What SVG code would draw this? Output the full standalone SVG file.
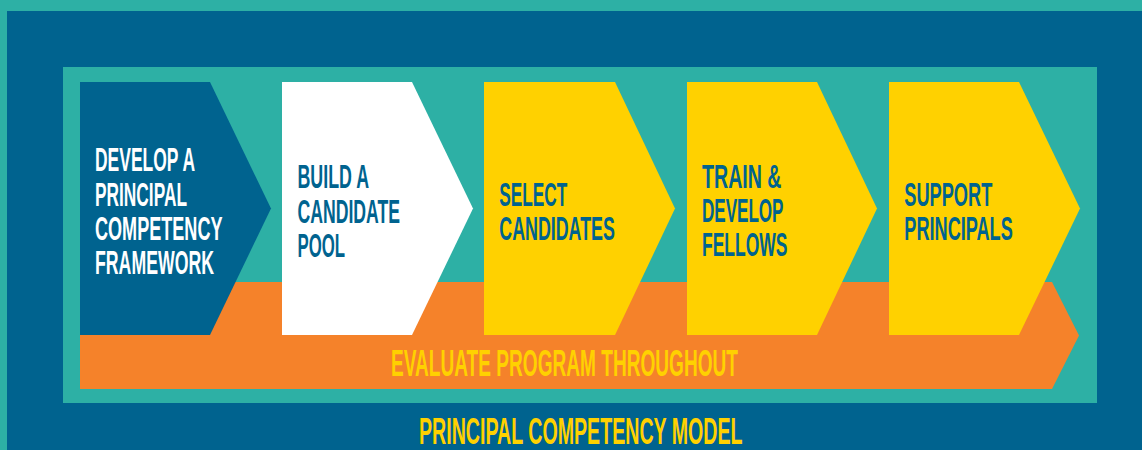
<svg xmlns="http://www.w3.org/2000/svg" width="1142" height="450" viewBox="0 0 1142 450">
  <style>
    .lbl { font-family: "Liberation Sans", Arial, sans-serif; font-weight: bold; font-size: 34px; }
    .big { font-family: "Liberation Sans", Arial, sans-serif; font-weight: bold; font-size: 36px; fill: #FFD100; }
    .blue { fill: #00638F; }
    .white { fill: #FFFFFF; }
  </style>
  <rect x="0" y="0" width="1142" height="450" fill="#2DB0A5"/>
  <rect x="7" y="11" width="1135" height="439" fill="#00638F"/>
  <rect x="63" y="67" width="1034" height="336" fill="#2DB0A5"/>

  <g id="connectors">
    <g id="evaluate">
      <polygon points="80,282 1052,282 1079,335.5 1052,389 80,389" fill="#F5822A"/>
      <text class="big" x="391" y="376" textLength="347" lengthAdjust="spacingAndGlyphs">EVALUATE PROGRAM THROUGHOUT</text>
    </g>
  </g>

  <g id="step1">
    <polygon points="80,82 210,82 271,208.5 210,335 80,335" fill="#00638F"/>
    <text class="lbl white" x="95" y="171" textLength="100" lengthAdjust="spacingAndGlyphs">DEVELOP A</text>
    <text class="lbl white" x="95" y="205.5" textLength="92" lengthAdjust="spacingAndGlyphs">PRINCIPAL</text>
    <text class="lbl white" x="95" y="239.5" textLength="127.5" lengthAdjust="spacingAndGlyphs">COMPETENCY</text>
    <text class="lbl white" x="95" y="274" textLength="119" lengthAdjust="spacingAndGlyphs">FRAMEWORK</text>
  </g>

  <g id="step2">
    <polygon points="282,82 412,82 473,208.5 412,335 282,335" fill="#FFFFFF"/>
    <text class="lbl blue" x="297.5" y="188.3" textLength="71.5" lengthAdjust="spacingAndGlyphs">BUILD A</text>
    <text class="lbl blue" x="297.5" y="222.5" textLength="102.5" lengthAdjust="spacingAndGlyphs">CANDIDATE</text>
    <text class="lbl blue" x="297.5" y="256.5" textLength="47.5" lengthAdjust="spacingAndGlyphs">POOL</text>
  </g>

  <g id="step3">
    <polygon points="484,82 615,82 675,208.5 615,335 484,335" fill="#FFD100"/>
    <text class="lbl blue" x="499.3" y="206" textLength="68" lengthAdjust="spacingAndGlyphs">SELECT</text>
    <text class="lbl blue" x="499.3" y="239.5" textLength="115.5" lengthAdjust="spacingAndGlyphs">CANDIDATES</text>
  </g>

  <g id="step4">
    <polygon points="687,82 817,82 877,208.5 817,335 687,335" fill="#FFD100"/>
    <text class="lbl blue" x="702" y="187.5" textLength="79.5" lengthAdjust="spacingAndGlyphs">TRAIN &amp;</text>
    <text class="lbl blue" x="702" y="222" textLength="81.5" lengthAdjust="spacingAndGlyphs">DEVELOP</text>
    <text class="lbl blue" x="702" y="256" textLength="85.5" lengthAdjust="spacingAndGlyphs">FELLOWS</text>
  </g>

  <g id="step5">
    <polygon points="889,82 1019,82 1080,208.5 1019,335 889,335" fill="#FFD100"/>
    <text class="lbl blue" x="904.3" y="206" textLength="88" lengthAdjust="spacingAndGlyphs">SUPPORT</text>
    <text class="lbl blue" x="904.3" y="239.5" textLength="108.5" lengthAdjust="spacingAndGlyphs">PRINCIPALS</text>
  </g>

  <g id="title">
    <text class="big" x="419" y="444.3" textLength="323.5" lengthAdjust="spacingAndGlyphs">PRINCIPAL COMPETENCY MODEL</text>
  </g>
</svg>
